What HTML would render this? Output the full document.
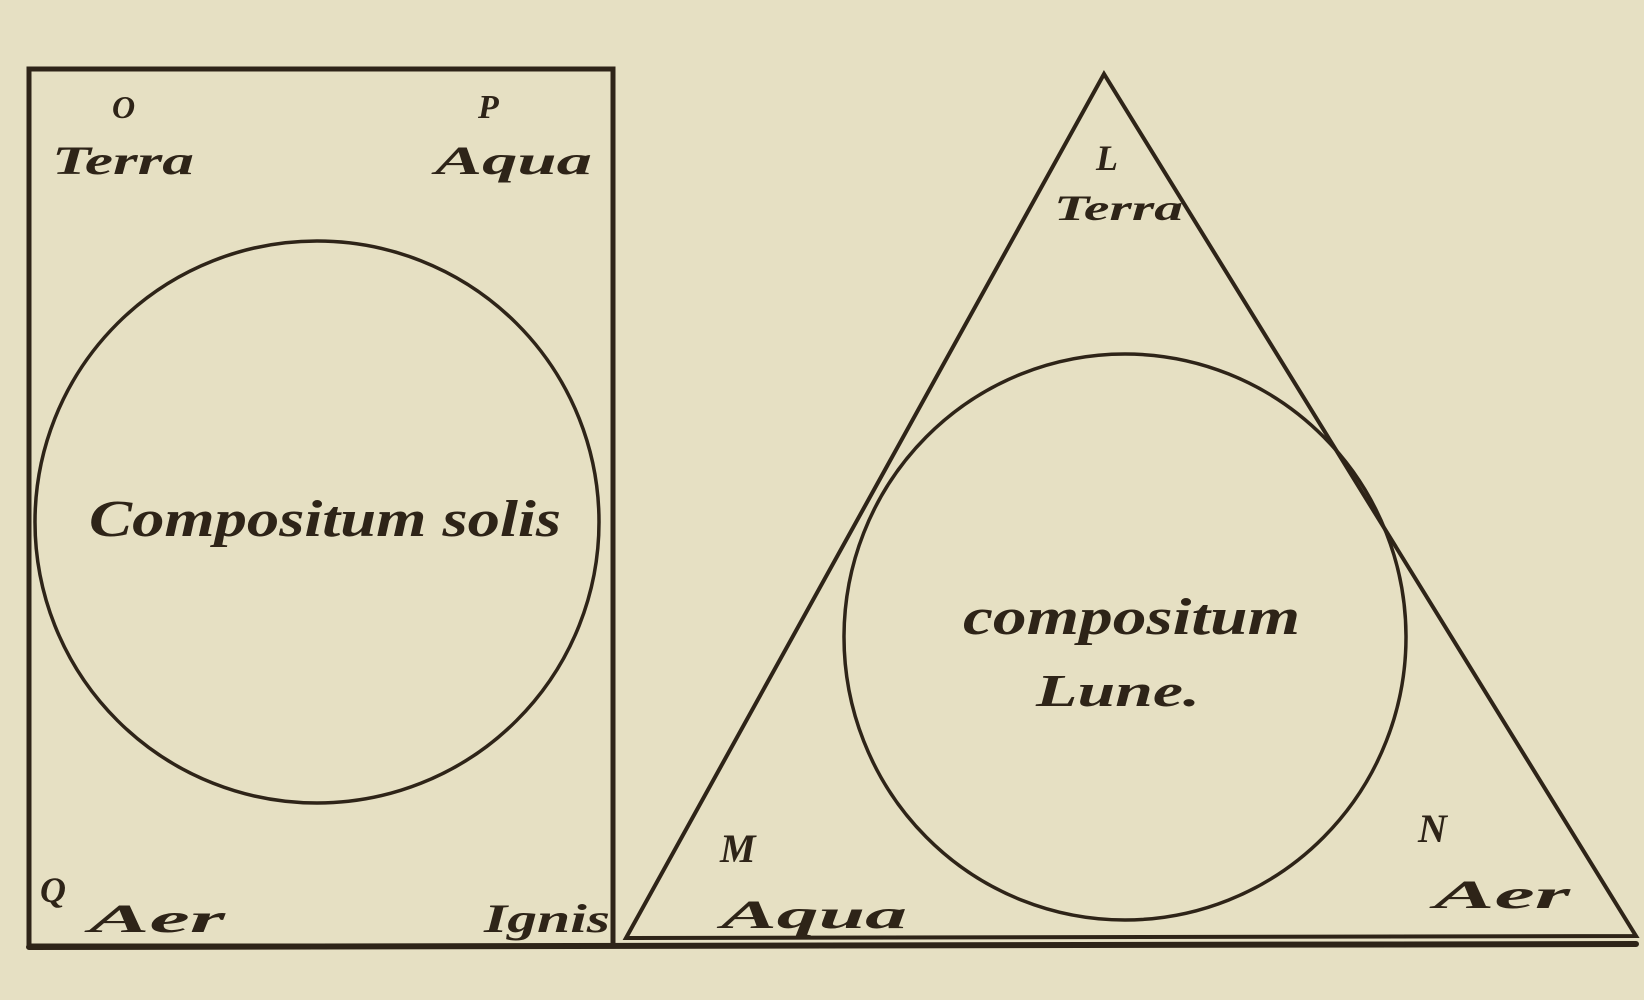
<!DOCTYPE html>
<html><head><meta charset="utf-8"><style>
html,body{margin:0;padding:0;background:#e6e0c3;}
svg{display:block}
text{font-family:"Liberation Serif",serif;fill:#2e2418;}
</style></head><body>
<svg width="1644" height="1000" viewBox="0 0 1644 1000" xmlns="http://www.w3.org/2000/svg">
<rect width="1644" height="1000" fill="#e6e0c3"/>
<g fill="none" stroke="#2e2418" stroke-linecap="round">
<rect x="29" y="69" width="584" height="877" stroke-width="5"/>
<line x1="29" y1="947" x2="1636" y2="944" stroke-width="6"/>
<ellipse cx="317" cy="522" rx="282" ry="281" stroke-width="3.5"/>
<polygon points="1104,74 626,938 1636,936" stroke-width="4"/>
<ellipse cx="1125" cy="637" rx="281" ry="283" stroke-width="3.5"/>
</g>
<g font-size="40" font-style="italic" font-weight="bold" lengthAdjust="spacingAndGlyphs">
<text x="112" y="118" font-size="32">O</text>
<text x="52" y="174" textLength="142" lengthAdjust="spacingAndGlyphs">Terra</text>
<text x="478" y="118" font-size="34">P</text>
<text x="435" y="174" textLength="157" lengthAdjust="spacingAndGlyphs">Aqua</text>
<text x="40" y="902" font-size="36">Q</text>
<text x="89" y="932" textLength="136" lengthAdjust="spacingAndGlyphs">Aer</text>
<text x="484" y="932" textLength="126" lengthAdjust="spacingAndGlyphs">Ignis</text>
<text x="89" y="536" font-size="52" textLength="472" lengthAdjust="spacingAndGlyphs">Compositum solis</text>
<text x="1096" y="170" font-size="36">L</text>
<text x="1054" y="220" font-size="36" textLength="129" lengthAdjust="spacingAndGlyphs">Terra</text>
<text x="963" y="634" font-size="52" textLength="337" lengthAdjust="spacingAndGlyphs">compositum</text>
<text x="1036" y="706" font-size="46" textLength="164" lengthAdjust="spacingAndGlyphs">Lune.</text>
<text x="720" y="862" font-size="40">M</text>
<text x="721" y="928" textLength="186" lengthAdjust="spacingAndGlyphs">Aqua</text>
<text x="1418" y="842" font-size="40">N</text>
<text x="1434" y="908" textLength="136" lengthAdjust="spacingAndGlyphs">Aer</text>
</g>
</svg>
</body></html>
